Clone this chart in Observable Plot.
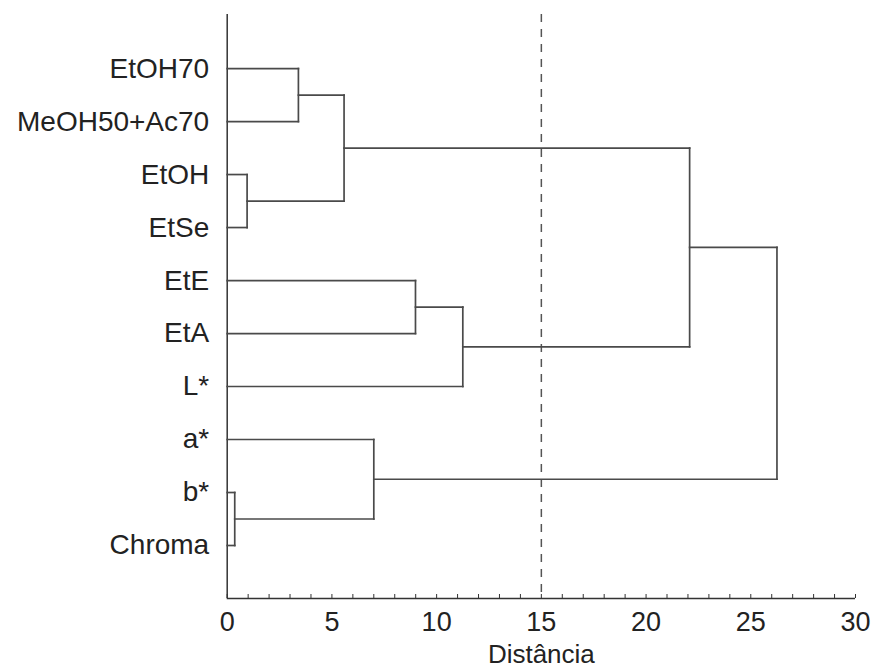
<!DOCTYPE html>
<html>
<head>
<meta charset="utf-8">
<script src="https://cdn.jsdelivr.net/npm/d3@7"></script>
<script src="https://cdn.jsdelivr.net/npm/@observablehq/plot@0.6"></script>
<style>
  html, body { margin: 0; padding: 0; background: #fff; }
  svg { font-family: "Liberation Sans", Arial, sans-serif; }
</style>
</head>
<body>
<div id="chart"></div>
<script>
// Leaves (top to bottom)
const leaves = ["EtOH70", "MeOH50+Ac70", "EtOH", "EtSe", "EtE", "EtA", "L*", "a*", "b*", "Chroma"];
// Merge steps: node ids 0-9 are leaves, merge k creates node 10+k
const mergeLeft   = [0, 2, 10, 4, 13, 12, 8, 7, 15];
const mergeRight  = [1, 3, 11, 5, 6, 14, 9, 16, 17];
const mergeHeight = [3.40, 0.95, 5.58, 8.99, 11.25, 22.08, 0.36, 7.00, 26.25];
const cutLine = [15];
const xTicks = [0, 5, 10, 15, 20, 25, 30];
const xMinorTicks = d3.range(0, 31, 1);

// derive node positions / heights
const pos = leaves.map((d, i) => i);
const hgt = leaves.map(() => 0);
const segments = [];
mergeLeft.forEach((a, k) => {
  const b = mergeRight[k], H = mergeHeight[k];
  segments.push({x1: hgt[a], x2: H, y1: pos[a], y2: pos[a]});
  segments.push({x1: hgt[b], x2: H, y1: pos[b], y2: pos[b]});
  segments.push({x1: H, x2: H, y1: pos[a], y2: pos[b]});
  pos.push((pos[a] + pos[b]) / 2);
  hgt.push(H);
});

const leafData = leaves.map((name, i) => ({name, i}));
const color = "#4a4a4a";

const chart = Plot.plot({
  width: 877,
  height: 671,
  marginLeft: 226.7,
  marginRight: 22,
  marginTop: 14,
  marginBottom: 73,
  x: {domain: [0, 30]},
  y: {domain: [-1.02, 10], reverse: true, axis: null},
  marks: [
    Plot.ruleX([0], {stroke: "#333", strokeWidth: 1.5}),
    Plot.ruleY([10], {stroke: "#333", strokeWidth: 1.5}),
    Plot.axisX({ticks: xMinorTicks, tickSize: 4, dy: -4, tickFormat: () => "", stroke: "#333", label: null}),
    Plot.axisX({ticks: xTicks, tickSize: 0, tickPadding: 13, fontSize: 27, fill: "#222", label: null}),
    Plot.ruleX(cutLine, {stroke: "#555", strokeWidth: 1.5, strokeDasharray: "8,7"}),
    Plot.link(segments, {x1: "x1", y1: "y1", x2: "x2", y2: "y2", stroke: color, strokeWidth: 1.7, strokeLinecap: "square"}),
    Plot.text(leafData, {x: 0, y: "i", text: "name", textAnchor: "end", dx: -18, fontSize: 28, fill: "#222"}),
    Plot.text(["Distância"], {frameAnchor: "bottom", text: d => d, dy: 64, fontSize: 26, fill: "#222"})
  ]
});
document.getElementById("chart").appendChild(chart);
</script>
</body>
</html>
